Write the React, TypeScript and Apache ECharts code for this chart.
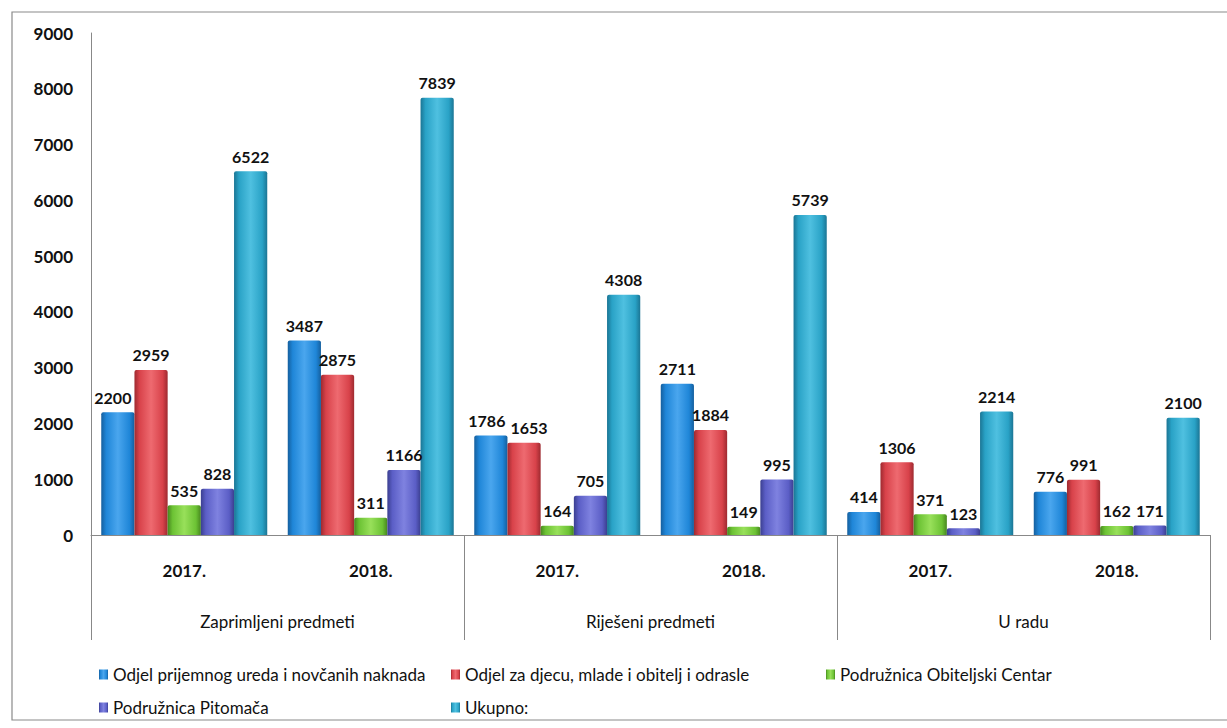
import React, { useEffect, useRef } from "react";
import * as echarts from "echarts";

const categories = ["2017.", "2018.", "2017.", "2018.", "2017.", "2018."];
const groups = ["Zaprimljeni predmeti", "Riješeni predmeti", "U radu"];
const seriesNames = [
  "Odjel prijemnog ureda i novčanih naknada",
  "Odjel za djecu, mlade i obitelj i odrasle",
  "Podružnica Obiteljski Centar",
  "Podružnica Pitomača",
  "Ukupno:",
];
const prijemni = [2200, 3487, 1786, 2711, 414, 776];
const djeca = [2959, 2875, 1653, 1884, 1306, 991];
const obiteljski = [535, 311, 164, 149, 371, 162];
const pitomaca = [828, 1166, 705, 995, 123, 171];
const ukupno = [6522, 7839, 4308, 5739, 2214, 2100];
const seriesData = [prijemni, djeca, obiteljski, pitomaca, ukupno];

const colors = ["#1f86d8", "#d8424a", "#6cc234", "#5b5ec6", "#29a2c6"];
const darks = ["#155f9e", "#9e2a30", "#47871f", "#3b3f90", "#1b7594"];
const lights = ["#4aa6ee", "#ee6a70", "#98e05a", "#7f82e0", "#4fc0e0"];

// label nudges [seriesIndex, dataIndex, dx]
const labelNudges: [number, number, number][] = [
  [0, 0, -5],
  [0, 2, -4],
  [1, 2, 5],
];

const font = "Lato, 'Open Sans', sans-serif";

export default function App() {
  const ref = useRef<HTMLDivElement>(null);
  useEffect(() => {
    document.body.style.margin = "0";
    const chart = echarts.init(ref.current!, null, { renderer: "svg" });
    const legendPos = [
      { left: 94, top: 661 },
      { left: 446, top: 661 },
      { left: 821, top: 661 },
      { left: 94, top: 694 },
      { left: 446, top: 694 },
    ];
    chart.setOption({
      animation: false,
      backgroundColor: "#ffffff",
      textStyle: { fontFamily: font },
      graphic: [
        {
          type: "rect",
          shape: { x: 12, y: 12, width: 1230, height: 708 },
          style: { fill: "none", stroke: "#8a8a8a", lineWidth: 1.2 },
          silent: true,
        },
      ],
      legend: seriesNames.map((n, i) => ({
        data: [n],
        left: legendPos[i].left,
        top: legendPos[i].top,
        itemWidth: 9,
        itemHeight: 10,
        itemGap: 4,
        icon: "rect",
        textStyle: { fontFamily: font, fontSize: 17, color: "#111" },
      })),
      grid: { left: 91, top: 33, right: 17, bottom: 193 },
      xAxis: [
        {
          type: "category",
          data: categories,
          axisLine: { lineStyle: { color: "#888", width: 1 } },
          axisTick: { show: false },
          axisLabel: {
            margin: 27,
            fontSize: 17,
            fontWeight: "bold",
            color: "#111",
            fontFamily: font,
          },
        },
        {
          type: "category",
          data: groups,
          position: "bottom",
          axisLine: { show: false },
          axisTick: { show: true, length: 105, lineStyle: { color: "#888" } },
          axisLabel: {
            margin: 78,
            fontSize: 17,
            color: "#111",
            fontFamily: font,
          },
        },
      ],
      yAxis: {
        type: "value",
        min: 0,
        max: 9000,
        interval: 1000,
        splitLine: { show: false },
        axisLine: { show: true, lineStyle: { color: "#888" } },
        axisTick: { show: false },
        axisLabel: {
          margin: 18,
          fontSize: 17,
          fontWeight: "bold",
          color: "#111",
          fontFamily: font,
          formatter: (v: number) => String(v),
        },
      },
      series: seriesNames.map((n, i) => ({
        name: n,
        type: "bar",
        xAxisIndex: 0,
        data: seriesData[i].map((v, j) => {
          const nudge = labelNudges.find((q) => q[0] === i && q[1] === j);
          return nudge ? { value: v, label: { offset: [nudge[2], 0] } } : v;
        }),
        barGap: "0%",
        barCategoryGap: "11%",
        itemStyle: {
          color: {
            type: "linear",
            x: 0,
            y: 0,
            x2: 1,
            y2: 0,
            colorStops: [
              { offset: 0, color: darks[i] },
              { offset: 0.15, color: colors[i] },
              { offset: 0.5, color: lights[i] },
              { offset: 0.85, color: colors[i] },
              { offset: 1, color: darks[i] },
            ],
          },
          borderRadius: [2, 2, 0, 0],
        },
        label: {
          show: true,
          position: "top",
          distance: 7,
          fontSize: 16,
          fontWeight: "bold",
          color: "#111",
          fontFamily: font,
        },
      })),
    });
    return () => chart.dispose();
  }, []);
  return <div ref={ref} style={{ width: 1227, height: 728 }} />;
}
